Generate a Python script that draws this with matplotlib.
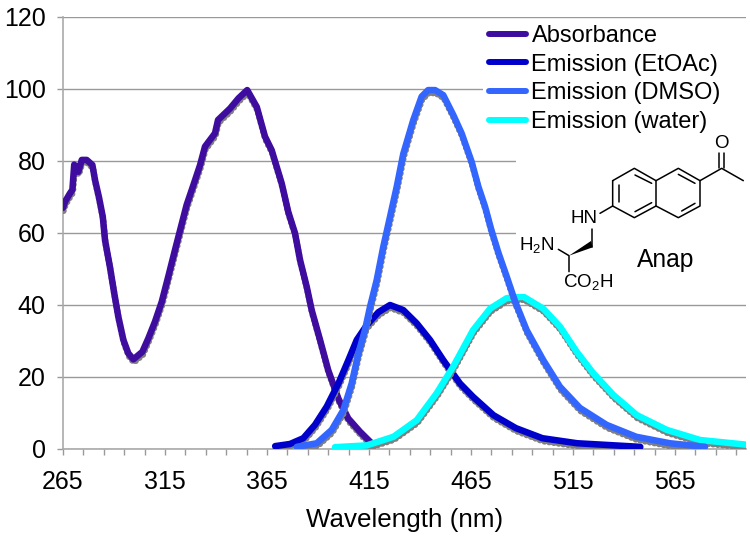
import matplotlib
matplotlib.use("Agg")
import matplotlib.pyplot as plt
from matplotlib.patches import Polygon, Rectangle
from matplotlib.transforms import offset_copy

plt.rcParams["font.family"] = ["Liberation Sans", "DejaVu Sans"]
plt.rcParams["mathtext.default"] = "regular"

# valores
abs_nm = [265, 266, 268.4, 269.6, 270.5, 272.5, 274.2, 276.6, 279.4, 280.7, 282.6, 284.5, 285.6, 288, 290.1, 292.1,
          294.6, 297, 299.5, 303.9, 306.8, 310.1, 313.4, 316.6, 319.9, 322.4, 325.6, 328.9, 332.2, 334.6, 339.5,
          341, 346.9, 351, 355.3, 360, 364, 367.3, 372.2, 375.4, 378.7, 381.2, 384.5, 386.9, 391, 395, 400, 404.8,
          410.6, 417]
abs_val = [67, 68.7, 71, 72, 79, 77, 80.3, 80.3, 78.9, 74.7, 70, 64.5, 58, 50.6, 43.3, 36.8,
           30.3, 26.6, 24.9, 27, 30.7, 35.4, 40.9, 47.9, 55.3, 60.8, 67.8, 73.3, 78.9, 84, 87.7,
           91.4, 94.6, 97.4, 99.7, 95, 86.8, 83, 73.8, 65.9, 60, 52.5, 45, 38.6, 30.3, 21.9, 14, 8.5,
           4.8, 1.2]

etoac_nm = [369, 376.3, 382.8, 388.5, 394.3, 400, 404.9, 409, 413.9, 419.6, 425.3, 431.8, 438.4, 444.9, 451.4, 459.6,
            466, 476, 487, 500, 517, 548]
etoac_val = [0.8, 1.4, 3, 6.7, 11.8, 18.2, 24.7, 30.3, 34.4, 38, 40, 38.6, 34.9, 30.3, 24.7, 18.2,
             14.5, 9.4, 5.8, 3, 1.6, 0.6]

dmso_nm = [379.6, 389.4, 396.7, 402.4, 406.5, 409.8, 413, 415.5, 418.8, 422, 425.3, 428.6, 431.8, 436.7, 440.8, 444,
           447.4, 451.4, 456.3, 460.4, 465.3, 468.6, 471.9, 475, 478.5, 482.5, 486.6, 492.3, 500.4, 508.6, 518.4,
           531.5, 546, 562.5, 579.7]
dmso_val = [0.6, 1.6, 5.3, 10.8, 18.2, 26.6, 33, 39.5, 47, 56.2, 64.5, 72.9, 82, 91.4, 97.9, 99.7,
            99.7, 98.3, 92.8, 87.7, 79.8, 72.9, 67.3, 60.8, 54.4, 47.9, 41, 33, 24.7, 17.3, 11.4,
            6.7, 3.4, 1.6, 0.6]

water_nm = [398.3, 413.9, 427, 438.4, 448.2, 456.3, 466, 474.4, 482.5, 490.7, 500.4, 508.6, 516.8, 525, 534.8, 546.3,
            561, 577.3, 600]
water_val = [0.5, 1, 3.4, 8, 15.5, 22.9, 33, 39, 41.9, 42.3, 39, 34, 27, 21, 15, 9.4,
             5.3, 2.5, 1.2]

nomes = ["Absorbance", "Emission (EtOAc)", "Emission (DMSO)", "Emission (water)"]
cores = ["#3F0CA0", "#0000CC", "#3366FF", "#00FFFF"]

fig = plt.figure(figsize=(7.5, 5.38), dpi=100)
ax = fig.add_axes([63 / 750, 89 / 538, 683.4 / 750, 432 / 538])
ax.set_xlim(265, 600)
ax.set_ylim(0, 120)

# sombra cinza logo abaixo de cada curva
sombra = offset_copy(ax.transData, fig=fig, x=0.5, y=-3, units="dots")
series = [(abs_nm, abs_val, cores[0], 3), (etoac_nm, etoac_val, cores[1], 4),
          (water_nm, water_val, cores[3], 5), (dmso_nm, dmso_val, cores[2], 6)]
for xs, ys, cor, z in series:
    ax.plot(xs, ys, color="#808080", lw=4.7, ls=(0, (0.01, 0.72)), dash_capstyle="round",
            transform=sombra, zorder=z)
    ax.plot(xs, ys, color=cor, lw=4.7, solid_capstyle="round", solid_joinstyle="round", zorder=z + 0.5)

ax.set_xticks(range(265, 600, 50))
ax.set_xticks(range(265, 601, 10), minor=True)
ax.set_yticks(range(0, 121, 20))
ax.tick_params(axis="both", which="both", length=4.5, width=1, color="#999999", labelsize=18)
ax.tick_params(axis="y", pad=8)
ax.tick_params(axis="x", pad=10.5)
ax.grid(axis="y", color="#999999", lw=1)
ax.set_axisbelow(True)
for lado in ["top", "right"]:
    ax.spines[lado].set_visible(False)
for lado in ["left", "bottom"]:
    ax.spines[lado].set_color("#aaaaaa")
    ax.spines[lado].set_linewidth(1.2)
ax.set_xlabel("Wavelength (nm)", fontsize=18.7, labelpad=10)

# camada em pixels para a legenda e a molécula
ov = fig.add_axes([0, 0, 1, 1])
ov.set_xlim(0, 750)
ov.set_ylim(538, 0)
ov.axis("off")
ov.patch.set_alpha(0)
ov.add_patch(Rectangle((483, 22), 267, 108, color="white", lw=0))
ov.add_patch(Rectangle((516, 130), 234, 164, color="white", lw=0))

handles = [plt.Line2D([], [], color=c, lw=4.3, solid_capstyle="round") for c in cores]
ov.legend(handles, nomes, loc="upper left", bbox_to_anchor=(488.5, 25), bbox_transform=ov.transData,
          frameon=False, fontsize=17, handlelength=1.6, handletextpad=0.22, labelspacing=0.285,
          borderpad=0, borderaxespad=0)


# coordenadas da molécula vêm do recorte (515,130) ampliado 3x
def px(p):
    return 515 + p[0] / 3, 130 + p[1] / 3


ligacoes = [
    [(293, 152), (358, 115), (423, 152), (423, 228), (358, 263), (293, 228), (293, 152)],
    [(423, 152), (490, 115), (555, 152), (555, 228), (490, 263), (423, 228)],
    [(312, 165), (312, 215)], [(360, 135), (410, 160)], [(360, 245), (410, 218)],
    [(490, 133), (540, 160)], [(500, 243), (540, 220)],
    [(555, 152), (620, 115), (685, 152)],
    [(612, 115), (612, 70)], [(627, 115), (627, 70)],
    [(293, 228), (255, 250)], [(232, 297), (232, 350)],
    [(130, 358), (162, 377), (162, 425)],
]
for lig in ligacoes:
    pts = [px(p) for p in lig]
    ov.plot([p[0] for p in pts], [p[1] for p in pts], color="black", lw=1.1, solid_capstyle="round")
ov.add_patch(Polygon([px(p) for p in [(162, 377), (228, 333), (233, 352)]], color="black", lw=0))

for txt, pos, tam in [("O", (620, 42), 13.5), ("HN", (208, 265), 13.5), ("H$_2$N", (65, 345), 13.5),
                      ("CO$_2$H", (220, 455), 13.5), ("Anap", (453, 391), 17.7)]:
    x, y = px(pos)
    ov.text(x, y, txt, fontsize=tam, ha="center", va="center")

fig.savefig("out.png", dpi=100)
